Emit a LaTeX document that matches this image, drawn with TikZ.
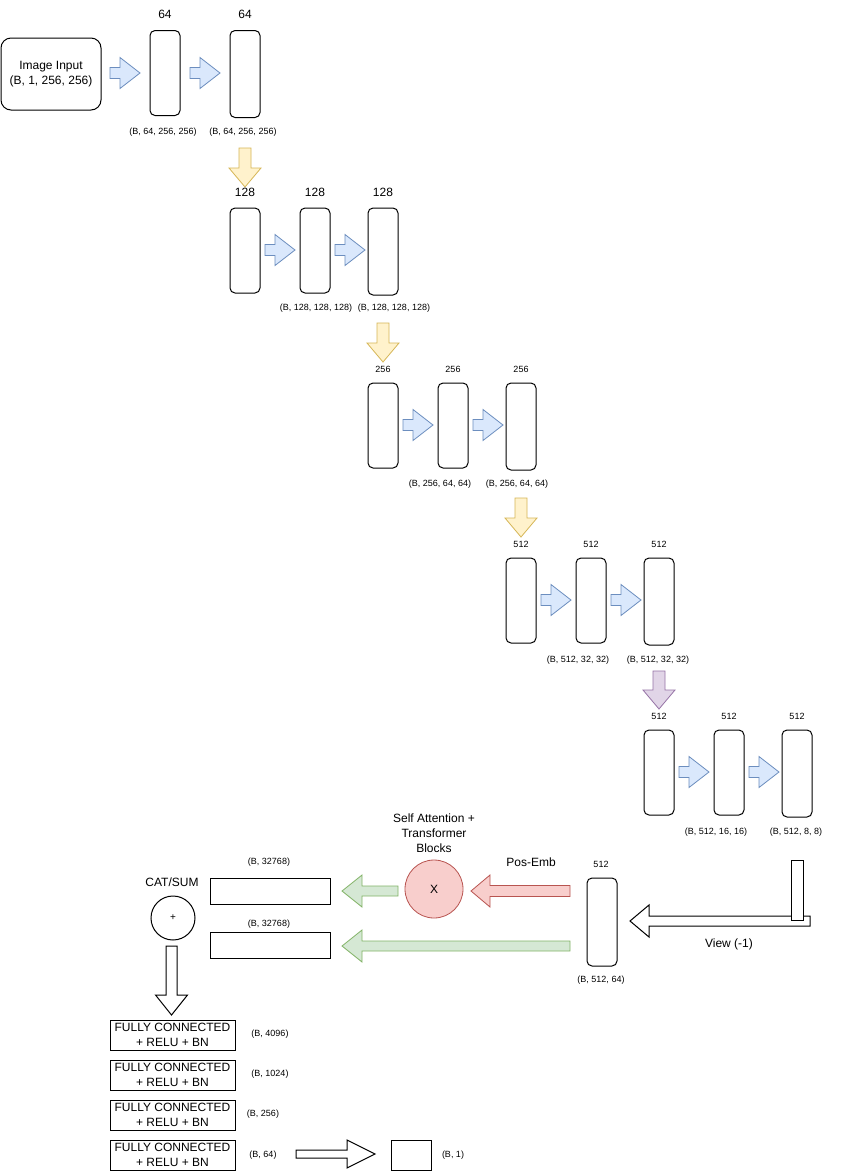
\documentclass[tikz,border=0pt]{standalone}
\usepackage{fontspec}
\setmainfont{Liberation Sans}
\definecolor{bluef}{HTML}{DAE8FC}\definecolor{bluel}{HTML}{6C8EBF}
\definecolor{yelf}{HTML}{FFF2CC}\definecolor{yell}{HTML}{D6B656}
\definecolor{purf}{HTML}{E1D5E7}\definecolor{purl}{HTML}{9673A6}
\definecolor{redf}{HTML}{F8CECC}\definecolor{redl}{HTML}{B85450}
\definecolor{grnf}{HTML}{D5E8D4}\definecolor{grnl}{HTML}{82B366}
% #1 style, #2 tail x, #3 head base x, #4 tip x, #5 centre y, #6 shaft half, #7 head half
\newcommand{\harr}[7]{\draw[#1] (#4,#5) -- (#3,{#5-#7}) -- (#3,{#5-#6}) -- (#2,{#5-#6}) -- (#2,{#5+#6}) -- (#3,{#5+#6}) -- (#3,{#5+#7}) -- cycle;}
% #1 style, #2 tail y, #3 head base y, #4 tip y, #5 centre x, #6 shaft half, #7 head half
\newcommand{\varr}[7]{\draw[#1] (#5,#4) -- ({#5-#7},#3) -- ({#5-#6},#3) -- ({#5-#6},#2) -- ({#5+#6},#2) -- ({#5+#6},#3) -- ({#5+#7},#3) -- cycle;}
\newcommand{\bluer}[2]{\harr{blueA}{#1}{#1+10}{#1+30}{#2}{5.5}{15.5}}
\begin{document}
\begin{tikzpicture}[x=1pt,y=-1pt,
  cbox/.style={draw, line width=1pt, rounded corners=5pt, minimum width=30pt, inner sep=0pt, fill=white},
  big/.style={font=\fontsize{12}{15}\selectfont, inner sep=0pt, align=center},
  sml/.style={font=\fontsize{9}{11}\selectfont, inner sep=0pt},
  blueA/.style={fill=bluef, draw=bluel, line width=0.8pt},
  yelA/.style={fill=yelf, draw=yell, line width=0.8pt},
  purA/.style={fill=purf, draw=purl, line width=0.8pt},
  redA/.style={fill=redf, draw=redl, line width=0.8pt},
  grnA/.style={fill=grnf, draw=grnl, line width=0.8pt},
  whtA/.style={fill=white, draw=black, line width=1pt},
  fcbox/.style={draw, line width=1pt, minimum width=125pt, minimum height=30pt, inner sep=0pt, font=\fontsize{12}{14.5}\selectfont, align=center}
]
\fill[white] (0,0) rectangle (848,1171);
\path[use as bounding box] (0,0) rectangle (848,1171);

% input
\node[draw, line width=1pt, rounded corners=10pt, minimum width=100pt, minimum height=72pt, big] (inp) at (51,74) {Image Input\\(B, 1, 256, 256)};

% row 1
\node[cbox, minimum height=85pt] (b11) at (165,73) {};
\node[cbox, minimum height=87pt] (b12) at (245,74) {};
\node[big] (t11) at (165,14) {64};
\node[big] (t12) at (245,14) {64};
\node[sml] (s11) at (163,132) {(B, 64, 256, 256)};
\node[sml] (s12) at (243,132) {(B, 64, 256, 256)};
\bluer{110}{73}
\bluer{190}{73}
\varr{yelA}{148}{168}{187}{245}{6}{16}

% row 2
\node[cbox, minimum height=85pt] (b21) at (245,250.5) {};
\node[cbox, minimum height=85pt] (b22) at (315,250.5) {};
\node[cbox, minimum height=87pt] (b23) at (383,251.5) {};
\node[big] (t21) at (245,192) {128};
\node[big] (t22) at (315,192) {128};
\node[big] (t23) at (383,192) {128};
\node[sml] (s22) at (316,308) {(B, 128, 128, 128)};
\node[sml] (s23) at (394,308) {(B, 128, 128, 128)};
\bluer{265}{250}
\bluer{335}{250}
\varr{yelA}{323}{343}{362}{383}{6}{16}

% row 3
\node[cbox, minimum height=85pt] (b31) at (383,425.5) {};
\node[cbox, minimum height=85pt] (b32) at (453,425.5) {};
\node[cbox, minimum height=87pt] (b33) at (521,426.5) {};
\node[sml] (t31) at (383,369) {256};
\node[sml] (t32) at (453,369) {256};
\node[sml] (t33) at (521,369) {256};
\node[sml] (s32) at (440,484) {(B, 256, 64, 64)};
\node[sml] (s33) at (517,484) {(B, 256, 64, 64)};
\bluer{403}{425}
\bluer{473}{425}
\varr{yelA}{498}{518}{537}{521}{6}{16}

% row 4
\node[cbox, minimum height=85pt] (b41) at (521,600.5) {};
\node[cbox, minimum height=85pt] (b42) at (591,600.5) {};
\node[cbox, minimum height=87pt] (b43) at (659,601.5) {};
\node[sml] (t41) at (521,544) {512};
\node[sml] (t42) at (591,544) {512};
\node[sml] (t43) at (659,544) {512};
\node[sml] (s42) at (578,660) {(B, 512, 32, 32)};
\node[sml] (s43) at (658,660) {(B, 512, 32, 32)};
\bluer{541}{600}
\bluer{611}{600}
\varr{purA}{671}{690}{709}{659}{6}{16}

% row 5
\node[cbox, minimum height=85pt] (b51) at (659,772.5) {};
\node[cbox, minimum height=85pt] (b52) at (729,772.5) {};
\node[cbox, minimum height=87pt] (b53) at (797,773.5) {};
\node[sml] (t51) at (659,716) {512};
\node[sml] (t52) at (729,716) {512};
\node[sml] (t53) at (797,716) {512};
\node[sml] (s52) at (716,832) {(B, 512, 16, 16)};
\node[sml] (s53) at (796,832) {(B, 512, 8, 8)};
\bluer{679}{772}
\bluer{749}{772}

% view arrow
\harr{whtA}{810}{649}{630}{921}{5}{16}
\draw[fill=white, draw=black, line width=1pt] (791,860) rectangle (803,920);
\node[big] (view) at (729,944) {View (-1)};

% bottom 512 block
\node[cbox, minimum height=88pt] (b6) at (602,922) {};
\node[sml] (t6) at (601,864) {512};
\node[sml] (s6) at (601,980) {(B, 512, 64)};

% attention
\harr{redA}{570}{490}{471}{891}{5.5}{16}
\node[big] (pe) at (531,862) {Pos-Emb};
\node[circle, draw=redl, fill=redf, line width=0.8pt, minimum size=58pt, inner sep=0pt, big] (att) at (434,889) {X};
\node[big] (attl) at (434,833) {Self Attention +\\Transformer\\Blocks};
\harr{grnA}{398}{362}{342}{891}{5}{16}
\harr{grnA}{570}{362}{342}{946}{5}{16}

% flat vectors
\node[draw, line width=1pt, minimum width=120pt, minimum height=26pt, inner sep=0pt] (v1) at (270,891) {};
\node[draw, line width=1pt, minimum width=120pt, minimum height=26pt, inner sep=0pt] (v2) at (270,945) {};
\node[sml] (sv1) at (269,862) {(B, 32768)};
\node[sml] (sv2) at (269,924) {(B, 32768)};

% cat/sum
\node[big] (cat) at (172,882) {CAT/SUM};
\node[circle, draw, line width=1pt, minimum size=44pt, inner sep=0pt, font=\fontsize{10}{12}\selectfont] (sum) at (173,918) {+};
\varr{whtA}{946}{995}{1015}{171.5}{5.5}{16}

% FC layers
\node[fcbox] (fc1) at (172.5,1035) {FULLY CONNECTED\\+ RELU + BN};
\node[fcbox] (fc2) at (172.5,1075) {FULLY CONNECTED\\+ RELU + BN};
\node[fcbox] (fc3) at (172.5,1115) {FULLY CONNECTED\\+ RELU + BN};
\node[fcbox] (fc4) at (172.5,1155) {FULLY CONNECTED\\+ RELU + BN};
\node[sml] (sf1) at (270,1034) {(B, 4096)};
\node[sml] (sf2) at (270,1074) {(B, 1024)};
\node[sml] (sf3) at (263,1114) {(B, 256)};
\node[sml] (sf4) at (263,1155) {(B, 64)};
\harr{whtA}{296}{347}{375}{1154}{4}{14}
\node[draw, line width=1pt, minimum width=40pt, minimum height=30pt, inner sep=0pt] (out) at (411.5,1155) {};
\node[sml] (so) at (453,1155) {(B, 1)};
\end{tikzpicture}
\end{document}
